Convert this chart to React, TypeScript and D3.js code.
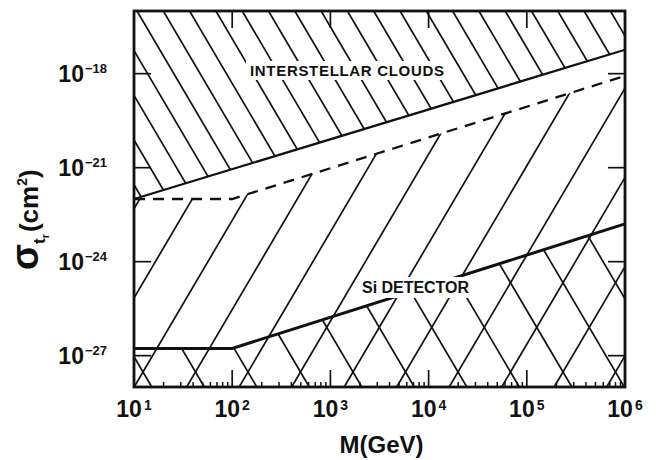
import React from 'react';
import * as d3 from 'd3';

// axis ticks
const massTicks = [1e1, 1e2, 1e3, 1e4, 1e5, 1e6];
const massExponents = ['1', '2', '3', '4', '5', '6'];
const sigmaTicks = [1e-18, 1e-21, 1e-24, 1e-27];
const sigmaExponents = ['−18', '−21', '−24', '−27'];

// boundaries: [M (GeV), sigma (cm^2)]
const cloudsBound = [[1e1, 1e-22], [1e6, 5.8e-18]];
const sensitivity = [[1e1, 1e-22], [1e2, 1e-22], [1e6, 8.5e-19]];
const siDetector = [[1e1, 1.7e-27], [1e2, 1.7e-27], [1e6, 1.6e-23]];

const W = 656;
const H = 460;
const left = 134;
const right = 625;
const top = 11;
const bottom = 387;

const font = '"Liberation Sans", Arial, Helvetica, sans-serif';

// parallel hatch lines covering the whole frame, clipped later
const hatch = (x0: number, y0: number, step: number, slope: number, dir: number) => {
  const out: number[][] = [];
  for (let k = -40; k <= 40; k++) {
    const xa = x0 + k * step + (dir * (top - y0)) / slope;
    const xb = x0 + k * step + (dir * (bottom - y0)) / slope;
    if (Math.max(xa, xb) < left - 5 || Math.min(xa, xb) > right + 5) continue;
    out.push([xa, top, xb, bottom]);
  }
  return out;
};

export default function App() {
  const x = d3.scaleLog().domain([1e1, 1e6]).range([left, right]);
  const y = d3.scaleLog().domain([1e-28, 1e-16]).range([bottom, top]);

  const line = d3.line<number[]>().x(d => x(d[0])).y(d => y(d[1]));
  const above = d3.area<number[]>().x(d => x(d[0])).y0(top).y1(d => y(d[1]));
  const below = d3.area<number[]>().x(d => x(d[0])).y0(bottom).y1(d => y(d[1]));

  const cloudHatch = hatch(137, top, 26.3, 1.7, 1);
  const riseHatch = hatch(143, 372, 52.5, 1.7, -1);
  const fallHatch = hatch(143, 372, 52.5, 1.7, 1);

  const minor: number[] = [];
  for (let e = 1; e < 6; e++) {
    for (let m = 2; m <= 9; m++) minor.push(m * Math.pow(10, e));
  }

  const hl = (l: number[], i: number) => (
    <line key={i} x1={l[0]} y1={l[1]} x2={l[2]} y2={l[3]} stroke="#111" strokeWidth={1.7} />
  );

  return (
    <svg
      width={W}
      height={H}
      style={{ position: 'absolute', left: 0, top: 0, background: '#fff' }}
      fontFamily={font}
    >
      <defs>
        <clipPath id="clouds">
          <path d={above(cloudsBound) || ''} />
        </clipPath>
        <clipPath id="rise">
          <path d={below(sensitivity) || ''} />
        </clipPath>
        <clipPath id="si">
          <path d={below(siDetector) || ''} />
        </clipPath>
      </defs>

      <rect x={0} y={0} width={W} height={H} fill="#fff" />

      {/* hatching */}
      <g clipPath="url(#clouds)">{cloudHatch.map(hl)}</g>
      <g clipPath="url(#rise)">{riseHatch.map(hl)}</g>
      <g clipPath="url(#si)">{fallHatch.map(hl)}</g>

      {/* boundaries */}
      <path d={line(cloudsBound) || ''} fill="none" stroke="#111" strokeWidth={2.3} />
      <path d={line(sensitivity) || ''} fill="none" stroke="#111" strokeWidth={2.3} strokeDasharray="11 8" />
      <path d={line(siDetector) || ''} fill="none" stroke="#111" strokeWidth={3} />

      {/* region labels */}
      <rect x={246} y={61} width={202} height={19} fill="#fff" />
      <text x={250} y={76} fontSize={15} fontWeight="bold" textLength={194} lengthAdjust="spacing" fill="#111">
        INTERSTELLAR CLOUDS
      </text>
      <rect x={358} y={277} width={114} height={21} fill="#fff" />
      <text x={362} y={293} fontSize={16} fontWeight="bold" textLength={107} lengthAdjust="spacing" fill="#111">
        Si DETECTOR
      </text>

      {/* ticks */}
      {massTicks.map(t => (
        <g key={'mt' + t}>
          <line x1={x(t)} x2={x(t)} y1={bottom} y2={bottom - 17} stroke="#111" strokeWidth={1.7} />
          <line x1={x(t)} x2={x(t)} y1={top} y2={top + 17} stroke="#111" strokeWidth={1.7} />
        </g>
      ))}
      {minor.map(t => (
        <line key={'mn' + t} x1={x(t)} x2={x(t)} y1={bottom} y2={bottom - 5} stroke="#111" strokeWidth={1.5} />
      ))}
      {sigmaTicks.map(t => (
        <g key={'st' + t}>
          <line x1={left} x2={left + 17} y1={y(t)} y2={y(t)} stroke="#111" strokeWidth={1.7} />
          <line x1={right} x2={right - 17} y1={y(t)} y2={y(t)} stroke="#111" strokeWidth={1.7} />
        </g>
      ))}

      {/* frame */}
      <rect x={left} y={top} width={right - left} height={bottom - top} fill="none" stroke="#111" strokeWidth={2.8} />

      {/* tick labels */}
      {massTicks.map((t, i) => (
        <text key={'ml' + t} x={x(t)} y={417} textAnchor="middle" fontWeight="bold" fill="#111">
          <tspan fontSize={23}>10</tspan>
          <tspan fontSize={14} dx={2} dy={-7}>{massExponents[i]}</tspan>
        </text>
      ))}
      {sigmaTicks.map((t, i) => (
        <text key={'sl' + t} x={107} y={y(t) + 8} textAnchor="end" fontWeight="bold" fill="#111">
          <tspan fontSize={23}>10</tspan>
          <tspan fontSize={13} dx={1} dy={-9}>{sigmaExponents[i]}</tspan>
        </text>
      ))}

      {/* axis titles */}
      <text x={(left + right) / 2 + 2} y={453} textAnchor="middle" fontSize={24} fontWeight="bold" fill="#111">
        M(GeV)
      </text>
      <text transform="translate(38,270) rotate(-90)" fontWeight="bold" fill="#111">
        <tspan fontSize={38}>σ</tspan>
        <tspan fontSize={17} dy={7}>t</tspan>
        <tspan fontSize={11} dy={4}>r</tspan>
        <tspan fontSize={26} dx={2} dy={-11}>(cm</tspan>
        <tspan fontSize={14} dy={-11}>2</tspan>
        <tspan fontSize={26} dy={11}>)</tspan>
      </text>
    </svg>
  );
}
